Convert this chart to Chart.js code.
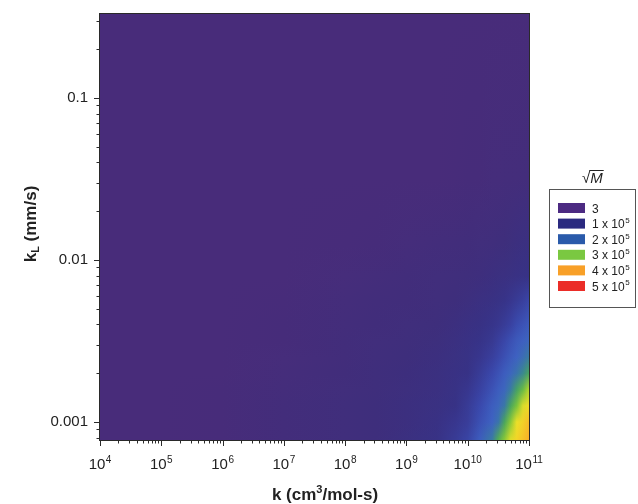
<!DOCTYPE html>
<html>
<head>
<meta charset="utf-8">
<script src="https://cdn.jsdelivr.net/npm/chart.js@4.4.0/dist/chart.umd.min.js"></script>
<style>
  html, body { margin: 0; padding: 0; background: #fff; }
</style>
</head>
<body>
<canvas id="myChart" width="638" height="504"></canvas>
<script>
// grid nodes (log10 of k and of kL)
const kExponents = [4, 5, 6, 7, 8, 8.5, 9, 9.5, 9.8, 10.0, 10.2, 10.4, 10.5, 10.6, 10.7, 10.8, 10.9, 11.0];
const kLExponents = [-0.48, -1.5, -1.9, -2.1, -2.25, -2.4, -2.5, -2.6, -2.7, -2.8, -2.9, -3.0, -3.11];

// sqrt(M) in units of 1e5, one array per kL node (top to bottom)
const sqrtM_kL_m048 = [0, 0, 0, 0, 0, 0, 0, 0, 0, 0, 0, 0, 0, 0, 0, 0, 0, 0];
const sqrtM_kL_m150 = [0, 0, 0, 0, 0, 0, 0, 0.03, 0.06, 0.1, 0.13, 0.17, 0.2, 0.22, 0.25, 0.27, 0.3, 0.32];
const sqrtM_kL_m190 = [0, 0, 0, 0, 0.05, 0.1, 0.2, 0.3, 0.35, 0.4, 0.45, 0.5, 0.55, 0.6, 0.65, 0.7, 0.75, 0.8];
const sqrtM_kL_m210 = [0, 0, 0, 0, 0.15, 0.25, 0.35, 0.45, 0.5, 0.55, 0.62, 0.7, 0.75, 0.8, 0.85, 0.9, 0.95, 1.0];
const sqrtM_kL_m225 = [0, 0, 0, 0.05, 0.25, 0.35, 0.42, 0.5, 0.6, 0.68, 0.78, 0.88, 0.95, 1.02, 1.1, 1.2, 1.3, 1.45];
const sqrtM_kL_m240 = [0, 0, 0, 0.1, 0.3, 0.4, 0.5, 0.6, 0.72, 0.82, 0.93, 1.05, 1.12, 1.22, 1.35, 1.55, 1.7, 1.85];
const sqrtM_kL_m250 = [0, 0, 0, 0.12, 0.35, 0.45, 0.55, 0.65, 0.8, 0.9, 1.02, 1.15, 1.3, 1.45, 1.65, 1.85, 1.95, 2.05];
const sqrtM_kL_m260 = [0, 0, 0.02, 0.15, 0.38, 0.5, 0.6, 0.7, 0.85, 0.95, 1.1, 1.3, 1.45, 1.65, 1.85, 2.0, 2.12, 2.3];
const sqrtM_kL_m270 = [0, 0, 0.03, 0.2, 0.42, 0.52, 0.63, 0.75, 0.9, 1.0, 1.22, 1.5, 1.7, 1.9, 2.05, 2.2, 2.45, 2.75];
const sqrtM_kL_m280 = [0, 0, 0.04, 0.25, 0.45, 0.55, 0.68, 0.8, 0.95, 1.1, 1.35, 1.7, 1.9, 2.05, 2.3, 2.7, 3.05, 3.55];
const sqrtM_kL_m290 = [0, 0, 0.05, 0.28, 0.48, 0.58, 0.7, 0.85, 1.0, 1.2, 1.5, 1.9, 2.05, 2.25, 2.75, 3.2, 3.8, 4.05];
const sqrtM_kL_m300 = [0, 0, 0.05, 0.3, 0.5, 0.6, 0.72, 0.9, 1.1, 1.25, 1.65, 2.0, 2.2, 2.75, 3.3, 3.95, 4.12, 4.3];
const sqrtM_kL_m311 = [0, 0, 0.05, 0.3, 0.5, 0.6, 0.75, 0.95, 1.2, 1.4, 1.9, 2.3, 2.85, 3.3, 3.85, 4.1, 4.25, 4.4];
const sqrtMRows = [sqrtM_kL_m048, sqrtM_kL_m150, sqrtM_kL_m190, sqrtM_kL_m210, sqrtM_kL_m225, sqrtM_kL_m240,
  sqrtM_kL_m250, sqrtM_kL_m260, sqrtM_kL_m270, sqrtM_kL_m280, sqrtM_kL_m290, sqrtM_kL_m300, sqrtM_kL_m311];

// legend: mantissa and exponent of each level (exponent null = plain number)
const legendMantissas = ['3', '1 x 10', '2 x 10', '3 x 10', '4 x 10', '5 x 10'];
const legendExponents = [null, '5', '5', '5', '5', '5'];
const legendColours = ['#4c2a82', '#2b2a80', '#2a5aaa', '#7ac841', '#f8a028', '#eb2d28'];

// colour ramp for the field: [value, r, g, b]
const fieldColourStops = [
  [0.0, 72, 44, 122], [0.6, 62, 46, 124], [1.0, 55, 50, 134], [1.5, 58, 72, 172],
  [2.0, 62, 98, 194], [2.4, 55, 132, 150], [2.8, 75, 170, 85], [3.2, 120, 195, 60],
  [3.6, 190, 215, 45], [4.0, 240, 225, 40], [4.4, 248, 175, 40], [5.0, 235, 50, 40]
];

const FONT = "'Liberation Sans', Arial, sans-serif";
const INK = '#222';

function fieldColour(v) {
  const s = fieldColourStops;
  if (v <= s[0][0]) return `rgb(${s[0][1]},${s[0][2]},${s[0][3]})`;
  for (let i = 1; i < s.length; i++) {
    if (v <= s[i][0]) {
      const t = (v - s[i - 1][0]) / (s[i][0] - s[i - 1][0]);
      const c = [1, 2, 3].map(j => Math.round(s[i - 1][j] + t * (s[i][j] - s[i - 1][j])));
      return `rgb(${c[0]},${c[1]},${c[2]})`;
    }
  }
  const l = s[s.length - 1];
  return `rgb(${l[1]},${l[2]},${l[3]})`;
}

function isDecade(v) {
  const e = Math.log10(v);
  return Math.abs(e - Math.round(e)) < 1e-6;
}

// text with a raised exponent; (x, y) is the left end of the baseline
function drawPower(ctx, base, exp, x, y, size) {
  ctx.font = `${size}px ${FONT}`;
  ctx.fillText(base, x, y);
  const w = ctx.measureText(base).width;
  if (exp === null) return w;
  ctx.font = `${Math.round(size * 0.68)}px ${FONT}`;
  ctx.fillText(exp, x + w + 0.5, y - size * 0.42);
  return w + 0.5 + ctx.measureText(exp).width;
}

function powerWidth(ctx, base, exp, size) {
  ctx.font = `${size}px ${FONT}`;
  let w = ctx.measureText(base).width;
  ctx.font = `${Math.round(size * 0.68)}px ${FONT}`;
  if (exp !== null) w += 0.5 + ctx.measureText(exp).width;
  return w;
}

const fieldPlugin = {
  id: 'sqrtMField',
  beforeDatasetsDraw(chart) {
    const { ctx, chartArea: a, scales: { x, y } } = chart;
    const rowYs = kLExponents.map(e => y.getPixelForValue(10 ** e));
    const grads = sqrtMRows.map(row => {
      const g = ctx.createLinearGradient(a.left, 0, a.right, 0);
      row.forEach((v, i) => {
        const px = x.getPixelForValue(10 ** kExponents[i]);
        const f = Math.min(1, Math.max(0, (px - a.left) / (a.right - a.left)));
        g.addColorStop(f, fieldColour(v));
      });
      return g;
    });
    ctx.save();
    ctx.beginPath();
    ctx.rect(a.left, a.top, a.right - a.left, a.bottom - a.top);
    ctx.clip();
    for (let py = Math.floor(a.top); py < a.bottom; py++) {
      const yc = py + 0.5;
      let r = 0;
      while (r < rowYs.length - 2 && yc > rowYs[r + 1]) r++;
      const t = Math.min(1, Math.max(0, (yc - rowYs[r]) / (rowYs[r + 1] - rowYs[r])));
      ctx.globalAlpha = 1;
      ctx.fillStyle = grads[r];
      ctx.fillRect(a.left, py, a.right - a.left, 1);
      if (t > 0) {
        ctx.globalAlpha = t;
        ctx.fillStyle = grads[r + 1];
        ctx.fillRect(a.left, py, a.right - a.left, 1);
      }
    }
    ctx.restore();
  }
};

const decorPlugin = {
  id: 'decor',
  afterDraw(chart) {
    const { ctx, chartArea: a, scales: { x, y } } = chart;
    ctx.save();
    // frame
    ctx.strokeStyle = '#2a2a2a';
    ctx.lineWidth = 1;
    ctx.strokeRect(Math.round(a.left) - 0.5, Math.round(a.top) - 0.5,
      Math.round(a.right - a.left) + 1, Math.round(a.bottom - a.top) + 1);

    // tick marks (1..9 x 10^n)
    ctx.beginPath();
    for (let e = 4; e <= 11; e++) {
      for (let m = 1; m <= 9; m++) {
        const v = m * 10 ** e;
        if (v < x.min * 0.999 || v > x.max * 1.001) continue;
        const px = Math.round(x.getPixelForValue(v)) + 0.5;
        ctx.moveTo(px, a.bottom);
        ctx.lineTo(px, a.bottom + (m === 1 ? 6 : 3.5));
      }
    }
    for (let e = -4; e <= 0; e++) {
      for (let m = 1; m <= 9; m++) {
        const v = m * 10 ** e;
        if (v < y.min || v > y.max) continue;
        const py = Math.round(y.getPixelForValue(v)) + 0.5;
        ctx.moveTo(a.left, py);
        ctx.lineTo(a.left - (m === 1 ? 6 : 3.5), py);
      }
    }
    ctx.stroke();

    ctx.fillStyle = INK;
    ctx.textAlign = 'left';
    ctx.textBaseline = 'alphabetic';
    // x tick labels 10^n, from the scale's own ticks
    x.ticks.forEach(t => {
      if (!isDecade(t.value)) return;
      const exp = String(Math.round(Math.log10(t.value)));
      const w = powerWidth(ctx, '10', exp, 15);
      drawPower(ctx, '10', exp, x.getPixelForValue(t.value) - w / 2, 469, 15);
    });

    // x title
    ctx.font = `bold 17px ${FONT}`;
    const t1 = 'k (cm', t2 = '/mol-s)';
    const w1 = ctx.measureText(t1).width, w2 = ctx.measureText(t2).width;
    ctx.font = `bold 11px ${FONT}`;
    const w3 = ctx.measureText('3').width;
    let sx = 325 - (w1 + w2 + w3) / 2;
    ctx.font = `bold 17px ${FONT}`;
    ctx.fillText(t1, sx, 500);
    ctx.font = `bold 11px ${FONT}`;
    ctx.fillText('3', sx + w1, 493);
    ctx.font = `bold 17px ${FONT}`;
    ctx.fillText(t2, sx + w1 + w3, 500);

    // y title with subscript L
    ctx.save();
    ctx.translate(31, 224);
    ctx.rotate(-Math.PI / 2);
    ctx.textBaseline = 'middle';
    const big = `bold 17px ${FONT}`, small = `bold 11px ${FONT}`;
    ctx.font = big;
    const wk = ctx.measureText('k').width;
    const wRest = ctx.measureText(' (mm/s)').width;
    ctx.font = small;
    const wL = ctx.measureText('L').width;
    sx = -(wk + wL + wRest) / 2;
    ctx.font = big;
    ctx.fillText('k', sx, 0);
    ctx.font = small;
    ctx.fillText('L', sx + wk, 5);
    ctx.font = big;
    ctx.fillText(' (mm/s)', sx + wk + wL, 0);
    ctx.restore();

    // legend title sqrt(M)
    ctx.font = `15px ${FONT}`;
    ctx.textBaseline = 'alphabetic';
    const wr = ctx.measureText('\u221a').width;
    ctx.fillText('\u221a', 582, 183);
    ctx.font = `italic 15px ${FONT}`;
    const wm = ctx.measureText('M').width;
    ctx.fillText('M', 582 + wr, 183);
    ctx.beginPath();
    ctx.strokeStyle = INK;
    ctx.lineWidth = 1;
    ctx.moveTo(582 + wr - 1, 170.5);
    ctx.lineTo(582 + wr + wm + 1, 170.5);
    ctx.stroke();

    // legend box
    ctx.strokeStyle = '#555';
    ctx.strokeRect(549.5, 189.5, 86, 118);
    legendMantissas.forEach((lab, i) => {
      const top = 203 + i * 15.6;
      ctx.fillStyle = legendColours[i];
      ctx.fillRect(558, top, 27, 10);
      ctx.fillStyle = INK;
      drawPower(ctx, lab, legendExponents[i], 592, top + 9.5, 12);
    });
    ctx.restore();
  }
};

const ctx = document.getElementById('myChart');
new Chart(ctx, {
  type: 'scatter',
  data: { datasets: [] },
  options: {
    responsive: false,
    animation: false,
    events: [],
    layout: { padding: { top: 14, right: 109, left: 0, bottom: 0 } },
    plugins: { legend: { display: false }, tooltip: { enabled: false } },
    scales: {
      x: {
        type: 'logarithmic',
        min: 1e4,
        max: 1e11,
        afterFit: s => { s.height = 64; s.paddingLeft = 0; s.paddingRight = 0; },
        grid: { display: false, drawTicks: false },
        border: { display: false },
        ticks: { display: false, autoSkip: false, maxRotation: 0, callback: v => isDecade(v) ? String(v) : '' }
      },
      y: {
        type: 'logarithmic',
        min: 7.74e-4,
        max: 0.33,
        afterFit: s => { s.width = 100; s.paddingTop = 0; s.paddingBottom = 0; },
        grid: { display: false, drawTicks: false },
        border: { display: false },
        ticks: {
          autoSkip: false,
          padding: 12,
          color: INK,
          font: { family: FONT, size: 15 },
          callback: v => isDecade(v) ? String(Number(v.toPrecision(1))) : ''
        }
      }
    }
  },
  plugins: [fieldPlugin, decorPlugin]
});
</script>
</body>
</html>
